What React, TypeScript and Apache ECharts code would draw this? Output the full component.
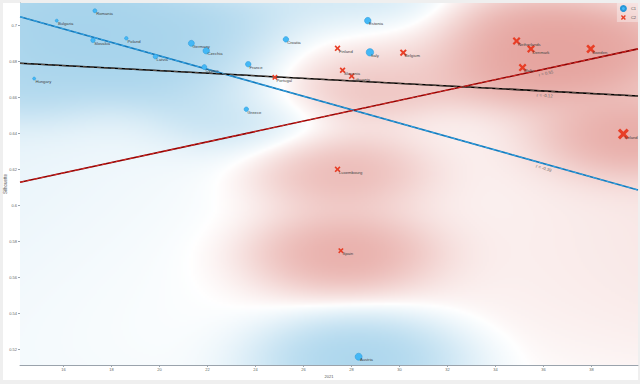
import React, { useEffect, useRef } from 'react';
import * as echarts from 'echarts';

// ---- data ----
const c1Names = ['Hungary', 'Bulgaria', 'Romania', 'Slovakia', 'Poland', 'Latvia', 'Germany', 'Czechia', 'Cyprus', 'France', 'Croatia', 'Greece', 'Estonia', 'Italy', 'Austria'];
const c1X = [14.78, 15.72, 17.31, 17.23, 18.62, 19.83, 21.33, 21.95, 21.87, 23.70, 25.27, 23.62, 28.68, 28.77, 28.30];
const c1Y = [0.6706, 0.7028, 0.7083, 0.6919, 0.6930, 0.6828, 0.6902, 0.6861, 0.6770, 0.6786, 0.6924, 0.6536, 0.7028, 0.6852, 0.5161];
const c1Size = [3, 3, 4, 4.5, 3.5, 4.5, 6, 6.5, 5, 5.5, 5.5, 4.5, 6.5, 7.5, 7];

const c2Names = ['Finland', 'Belgium', 'Portugal', 'Slovenia', 'Lithuania', 'Netherlands', 'Denmark', 'Sweden', 'Malta', 'Ireland', 'Luxembourg', 'Spain'];
const c2X = [27.42, 30.16, 24.81, 27.63, 28.01, 34.88, 35.48, 37.97, 35.13, 39.33, 27.42, 27.56];
const c2Y = [0.6874, 0.6850, 0.6713, 0.6752, 0.6720, 0.6915, 0.6871, 0.6871, 0.6767, 0.6398, 0.6202, 0.5750];
const c2Size = [6, 7, 5.5, 6, 6, 8, 8, 9, 8, 11, 6, 5.5];

const xTicks = [16, 18, 20, 22, 24, 26, 28, 30, 32, 34, 36, 38];
const yTicks = [0.52, 0.54, 0.56, 0.58, 0.6, 0.62, 0.64, 0.66, 0.68, 0.7];

const regX = [14.19, 39.94];
const regC1Y = [0.705, 0.6087];
const regAllY = [0.6791, 0.6609];
const regC2Y = [0.613, 0.6871];
const regLabels = ['r = -0.39', 'r = -0.12', 'r = 0.55'];
const regLabelX = 36.06;

const X_MIN = 14.19, X_MAX = 39.94, Y_MIN = 0.5115, Y_MAX = 0.7126;

const FONT = '"Liberation Sans", Arial, sans-serif';
const BLUE = 'rgb(68,184,246)';
const RED = 'rgb(232,62,38)';
const XPATH = 'path://M0,2L2,0L5,3L8,0L10,2L7,5L10,8L8,10L5,7L2,10L0,8L3,5Z';

const BLUEF = [160, 208, 234];
const REDF = [226, 152, 146];

// class-density background: kernel class ratio on standardised coordinates
function densityURL(W: number, H: number): string {
  const px = c1X.concat(c2X);
  const py = c1Y.concat(c2Y);
  const cls = c1X.map(() => 0).concat(c2X.map(() => 1));
  const n = px.length;
  const mx = px.reduce((a, b) => a + b, 0) / n;
  const my = py.reduce((a, b) => a + b, 0) / n;
  const sx = Math.sqrt(px.reduce((a, b) => a + (b - mx) * (b - mx), 0) / n);
  const sy = Math.sqrt(py.reduce((a, b) => a + (b - my) * (b - my), 0) / n);
  const nx = px.map((v) => (v - mx) / sx);
  const ny = py.map((v) => (v - my) / sy);
  const S1 = 0.5 * 0.5, S2 = 2.5 * 2.5, LAM = 0.04;
  const FL = 0.5, TAU = 0.45, GAM = 0.85;
  const canvas = document.createElement('canvas');
  canvas.width = W; canvas.height = H;
  const ctx = canvas.getContext('2d')!;
  const img = ctx.createImageData(W, H);
  for (let j = 0; j < H; j++) {
    const y = Y_MAX - ((j + 0.5) / H) * (Y_MAX - Y_MIN);
    const yn = (y - my) / sy;
    for (let i = 0; i < W; i++) {
      const x = X_MIN + ((i + 0.5) / W) * (X_MAX - X_MIN);
      const xn = (x - mx) / sx;
      let nb = 0, nr = 0, bb = 0, br = 0;
      for (let k = 0; k < n; k++) {
        const d2 = (xn - nx[k]) ** 2 + (yn - ny[k]) ** 2;
        const w1 = Math.exp(-d2 / S1);
        const w2 = Math.exp(-d2 / S2);
        if (cls[k] === 0) { nb += w1; bb += w2; } else { nr += w1; br += w2; }
      }
      const wb = nb + LAM * bb, wr = nr + LAM * br;
      const p = (wr - wb) / (wr + wb);
      const g = FL + (1 - FL) * (1 - Math.exp(-(nb + nr) / TAU));
      const a = Math.pow(Math.abs(p), GAM) * g;
      const col = p > 0 ? REDF : BLUEF;
      const o = (j * W + i) * 4;
      img.data[o] = 255 + (col[0] - 255) * a;
      img.data[o + 1] = 255 + (col[1] - 255) * a;
      img.data[o + 2] = 255 + (col[2] - 255) * a;
      img.data[o + 3] = 255;
    }
  }
  ctx.putImageData(img, 0, 0);
  return canvas.toDataURL();
}

function regSeries(name: string, ys: number[], under: string, over: string) {
  const data = regX.map((x, i) => [x, ys[i]]);
  return [
    { name: name + '_u', type: 'line', data, symbol: 'none', silent: true, z: 3, lineStyle: { color: under, width: 1.6 }, emphasis: { disabled: true } },
    { name: name + '_o', type: 'line', data, symbol: 'none', silent: true, z: 4, lineStyle: { color: over, width: 0.9, type: [4, 3] }, emphasis: { disabled: true } },
  ];
}

const frameRect = {
  type: 'rect', z: -10, silent: true,
  shape: { x: 3, y: 3, width: 635, height: 377 },
  style: { fill: '#ffffff' },
};

export default function App() {
  const ref = useRef<HTMLDivElement>(null);
  useEffect(() => {
    document.body.style.margin = '0';
    const chart = echarts.init(ref.current!, null, { renderer: 'svg' });
    const url = densityURL(309, 181);
    const axisColor = '#9aa3ac';
    const option: any = {
      animation: false,
      backgroundColor: '#efefef',
      grid: { left: 20, right: 2, top: 3, bottom: 19, containLabel: false, outerBoundsMode: 'none' },
      legend: {
        right: 2, top: 3, orient: 'vertical', itemWidth: 5, itemHeight: 5, itemGap: 3,
        padding: [2, 2, 2, 3], backgroundColor: 'rgba(255,255,255,0.35)',
        textStyle: { fontSize: 4, color: '#555', fontFamily: FONT },
        data: [{ name: 'C1', icon: 'circle' }, { name: 'C2', icon: XPATH }],
      },
      graphic: [frameRect],
      xAxis: {
        type: 'value', min: X_MIN, max: X_MAX, name: '2021', nameLocation: 'middle', nameGap: 9, nameMoveOverlap: false,
        nameTextStyle: { fontSize: 4, color: '#555', fontFamily: FONT },
        axisLine: { show: true, onZero: false, lineStyle: { color: axisColor, width: 1 } },
        axisTick: { show: true, length: 2, customValues: xTicks, lineStyle: { color: axisColor } },
        axisLabel: { customValues: xTicks, fontSize: 4, color: '#666', margin: 2, fontFamily: FONT, formatter: (v: number) => String(v) },
        splitLine: { show: false },
      },
      yAxis: {
        type: 'value', min: Y_MIN, max: Y_MAX, name: 'Silhouette', nameLocation: 'middle', nameGap: 12.5, nameMoveOverlap: false,
        nameTextStyle: { fontSize: 4.5, color: '#555', fontFamily: FONT },
        axisLine: { show: true, onZero: false, lineStyle: { color: axisColor, width: 1 } },
        axisTick: { show: true, length: 2, customValues: yTicks, lineStyle: { color: axisColor } },
        axisLabel: { customValues: yTicks, fontSize: 4, color: '#666', margin: 3, fontFamily: FONT, formatter: (v: number) => String(+v.toFixed(2)) },
        splitLine: { show: false },
      },
      series: [
        {
          name: 'density', type: 'custom', z: 1, silent: true, data: [[X_MIN, Y_MIN]],
          renderItem: (_p: any, api: any) => {
            const p0 = api.coord([X_MIN, Y_MAX]);
            const p1 = api.coord([X_MAX, Y_MIN]);
            return { type: 'image', silent: true, style: { image: url, x: p0[0], y: p0[1], width: p1[0] - p0[0], height: p1[1] - p0[1] } };
          },
        },
        ...regSeries('regC1', regC1Y, '#1478b8', '#3aaced'),
        ...regSeries('regAll', regAllY, '#000000', '#6a5a50'),
        ...regSeries('regC2', regC2Y, '#8a0000', '#e0302a'),
        {
          name: 'C1', type: 'scatter', z: 6, symbol: 'circle',
          data: c1X.map((x, i) => ({ value: [x, c1Y[i]], name: c1Names[i], symbolSize: c1Size[i], label: { position: [c1Size[i] / 2 + 1.5, c1Size[i] / 2 + 1.2] } })),
          itemStyle: { color: BLUE, borderColor: 'rgb(40,150,215)', borderWidth: 0.5, opacity: 1 },
          label: { show: true, formatter: '{b}', fontSize: 4.2, color: '#444', fontFamily: FONT },
          emphasis: { disabled: true },
        },
        {
          name: 'C2', type: 'scatter', z: 6, symbol: XPATH,
          data: c2X.map((x, i) => ({ value: [x, c2Y[i]], name: c2Names[i], symbolSize: c2Size[i], label: { position: [c2Size[i] / 2 + 1.5, c2Size[i] / 2 + 1.2] } })),
          itemStyle: { color: RED, opacity: 1 },
          label: { show: true, formatter: '{b}', fontSize: 4.2, color: '#444', fontFamily: FONT },
          emphasis: { disabled: true },
        },
      ],
    };
    chart.setOption(option);
    const lines = [regC1Y, regAllY, regC2Y];
    const texts = lines.map((ys, idx) => {
      const a = chart.convertToPixel({ gridIndex: 0 }, [regX[0], ys[0]]) as number[];
      const b = chart.convertToPixel({ gridIndex: 0 }, [regX[1], ys[1]]) as number[];
      const t = (regLabelX - regX[0]) / (regX[1] - regX[0]);
      const cx = a[0] + (b[0] - a[0]) * t;
      const cy = a[1] + (b[1] - a[1]) * t;
      const ang = Math.atan2(b[1] - a[1], b[0] - a[0]);
      return {
        type: 'text', x: cx - Math.sin(ang) * 4.5, y: cy + Math.cos(ang) * 4.5, rotation: -ang, z: 10, silent: true,
        style: { text: regLabels[idx], fill: '#666', fontSize: 4.3, fontFamily: FONT, align: 'center', verticalAlign: 'middle' },
      };
    });
    chart.setOption({ graphic: [frameRect, ...texts] });
    return () => chart.dispose();
  }, []);
  return <div ref={ref} style={{ position: 'fixed', left: 0, top: 0, width: 640, height: 384 }} />;
}
